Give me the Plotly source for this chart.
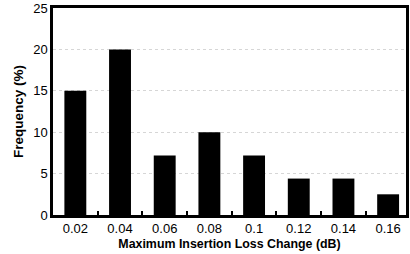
import plotly.graph_objects as go

categories = ["0.02", "0.04", "0.06", "0.08", "0.1", "0.12", "0.14", "0.16"]
frequency = [15, 20, 7.2, 10, 7.2, 4.4, 4.4, 2.5]
y_ticks = [0, 5, 10, 15, 20, 25]

idx = list(range(len(categories)))
FONT = "Liberation Sans Narrow, Liberation Sans, Arial, sans-serif"

fig = go.Figure(go.Bar(x=idx, y=frequency, width=0.49,
                       marker=dict(color="black", line=dict(width=0))))

fig.update_layout(
    width=410, height=254,
    margin=dict(l=53, r=1, t=5, b=39),
    paper_bgcolor="white", plot_bgcolor="white",
    showlegend=False,
    font=dict(family=FONT, color="black", size=13),
)
fig.update_xaxes(
    range=[-0.5, 7.4], tickmode="array", tickvals=idx, ticktext=categories,
    ticks="", showgrid=False, zeroline=False,
    showline=True, linecolor="black", linewidth=2.5, mirror=True,
    minor=dict(tickmode="array", tickvals=[i + 0.5 for i in idx[:-1]],
               ticks="inside", ticklen=4, tickwidth=2, tickcolor="black", showgrid=False),
    tickfont=dict(size=13), ticklabeloverflow="allow",
    title=dict(text="<b>Maximum Insertion Loss Change (dB)</b>",
               font=dict(size=12.4, family="Liberation Sans, Arial"), standoff=4),
)
fig.update_yaxes(
    range=[0, 25], tickmode="array", tickvals=y_ticks, ticks="",
    showgrid=True, gridcolor="#d6d6d6", griddash="dot", gridwidth=1,
    zeroline=False,
    showline=True, linecolor="black", linewidth=2.5, mirror=True,
    tickfont=dict(size=13), ticklabeloverflow="allow",
    title=dict(text="<b>Frequency (%)</b>",
               font=dict(size=13.5, family="Liberation Sans, Arial"), standoff=7),
)

fig.write_html("out.html", config={"displayModeBar": False},
               post_script="document.body.style.margin='0';document.body.style.overflow='hidden';")
